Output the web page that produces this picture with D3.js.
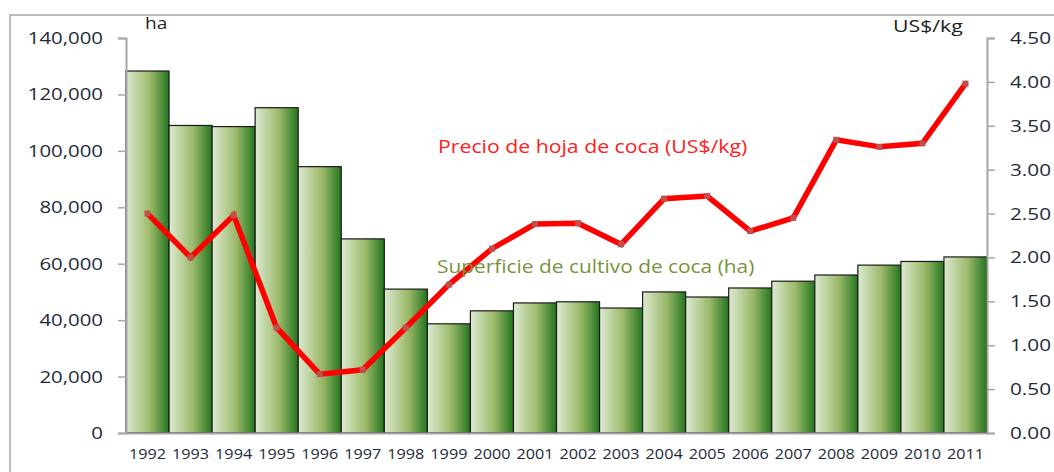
<!DOCTYPE html>
<html>
<head>
<meta charset="utf-8">
<script src="https://cdn.jsdelivr.net/npm/d3@7"></script>
<style>
  body { margin: 0; background: #fff; }
  svg text { font-family: "Open Sans", sans-serif; }
</style>
</head>
<body>
<div id="chart"></div>
<script>
// data
const years = ["1992","1993","1994","1995","1996","1997","1998","1999","2000","2001",
  "2002","2003","2004","2005","2006","2007","2008","2009","2010","2011"];
const hectares = [128300, 109000, 108600, 115300, 94400, 68800, 51000, 38700, 43300, 46100,
  46500, 44300, 50000, 48200, 51400, 53800, 56000, 59500, 60800, 62400];
const price = [2.50, 2.00, 2.48, 1.20, 0.67, 0.72, 1.20, 1.69, 2.10, 2.38,
  2.39, 2.15, 2.67, 2.70, 2.30, 2.45, 3.34, 3.26, 3.30, 3.98];
const leftTicks = [0, 20000, 40000, 60000, 80000, 100000, 120000, 140000];
const rightTicks = [0, 0.5, 1, 1.5, 2, 2.5, 3, 3.5, 4, 4.5];

const w = 1054, h = 472;
const mLeft = 126, mRight = 987, mTop = 38, mBottom = 433;
const axisColor = "#a6a6a6";
const textColor = "#1e2a3a";

// the original font is wider than Open Sans, so stretch the text a bit
function stretch(sel, k) {
  sel.each(function() {
    const len = this.getComputedTextLength();
    d3.select(this).attr("textLength", len * k).attr("lengthAdjust", "spacingAndGlyphs");
  });
}

const svg = d3.select("#chart").append("svg")
  .attr("width", w)
  .attr("height", h);

// gradient for the bars, light on the left, dark green on the right
const grad = svg.append("defs").append("linearGradient")
  .attr("id", "barGrad")
  .attr("x1", "0%").attr("x2", "100%").attr("y1", "0%").attr("y2", "0%");
grad.append("stop").attr("offset", "0%").attr("stop-color", "#dde9d1");
grad.append("stop").attr("offset", "55%").attr("stop-color", "#9cba6a");
grad.append("stop").attr("offset", "100%").attr("stop-color", "#24751f");

// outer frame
svg.append("rect")
  .attr("x", 10).attr("y", 15)
  .attr("width", 1200).attr("height", 600)
  .attr("fill", "none")
  .attr("stroke", axisColor)
  .attr("stroke-width", 1.5);

const x = d3.scaleBand().domain(years).range([mLeft, mRight]).padding(0);
const yL = d3.scaleLinear().domain([0, 140000]).range([mBottom, mTop]);
const yR = d3.scaleLinear().domain([0, 4.5]).range([mBottom, mTop]);

// bars
svg.selectAll("rect.bar")
  .data(hectares)
  .enter()
  .append("rect")
  .attr("class", "bar")
  .attr("x", (d, i) => x(years[i]))
  .attr("y", d => yL(d))
  .attr("width", x.bandwidth())
  .attr("height", d => mBottom - yL(d))
  .attr("fill", "url(#barGrad)")
  .attr("stroke", "#1a1a1a")
  .attr("stroke-width", 1.2);

// left axis
const fmt = d3.format(",");
const axL = svg.append("g")
  .attr("transform", `translate(${mLeft},0)`)
  .call(d3.axisLeft(yL).tickValues(leftTicks).tickFormat(d => fmt(d)).tickSize(8).tickPadding(15));
axL.select(".domain").attr("stroke", axisColor).attr("stroke-width", 2);
axL.selectAll(".tick line").attr("stroke", axisColor).attr("stroke-width", 1.5);
axL.selectAll("text").attr("font-size", 17).attr("fill", textColor)
  .attr("font-family", "Open Sans").call(stretch, 1.2);

// right axis
const axR = svg.append("g")
  .attr("transform", `translate(${mRight},0)`)
  .call(d3.axisRight(yR).tickValues(rightTicks).tickFormat(d3.format(".2f")).tickSize(8).tickPadding(15));
axR.select(".domain").attr("stroke", axisColor).attr("stroke-width", 2);
axR.selectAll(".tick line").attr("stroke", axisColor).attr("stroke-width", 1.5);
axR.selectAll("text").attr("font-size", 17).attr("fill", textColor)
  .attr("font-family", "Open Sans").call(stretch, 1.22);

// bottom axis
const axB = svg.append("g")
  .attr("transform", `translate(0,${mBottom})`)
  .call(d3.axisBottom(x).tickSize(0).tickPadding(15));
axB.select(".domain").attr("stroke", axisColor).attr("stroke-width", 2);
axB.selectAll("text").attr("font-size", 15).attr("fill", textColor)
  .attr("font-family", "Open Sans").call(stretch, 1.08);

// price line
const line = d3.line()
  .x((d, i) => x(years[i]) + x.bandwidth() / 2)
  .y(d => yR(d));

svg.append("path")
  .datum(price)
  .attr("d", line)
  .attr("fill", "none")
  .attr("stroke", "#ff0000")
  .attr("stroke-width", 5.5)
  .attr("stroke-linejoin", "miter");

svg.selectAll("rect.pt")
  .data(price)
  .enter()
  .append("rect")
  .attr("class", "pt")
  .attr("x", (d, i) => x(years[i]) + x.bandwidth() / 2 - 3)
  .attr("y", d => yR(d) - 3)
  .attr("width", 6)
  .attr("height", 6)
  .attr("fill", "#c0504d");

// unit labels
svg.append("text").attr("x", 145).attr("y", 29)
  .attr("font-size", 17).attr("fill", "#1e1e1e").text("ha").call(stretch, 1.12);
svg.append("text").attr("x", 893).attr("y", 32)
  .attr("font-size", 17).attr("fill", "#1e1e1e").text("US$/kg").call(stretch, 1.25);

// series labels
svg.append("text").attr("x", 438).attr("y", 153)
  .attr("font-size", 18).attr("fill", "#ff2020").text("Precio de hoja de coca (US$/kg)")
  .call(stretch, 1.18);
svg.append("text").attr("x", 437).attr("y", 273)
  .attr("font-size", 18).attr("fill", "#77933c").text("Superficie de cultivo de coca (ha)")
  .call(stretch, 1.16);
</script>
</body>
</html>
